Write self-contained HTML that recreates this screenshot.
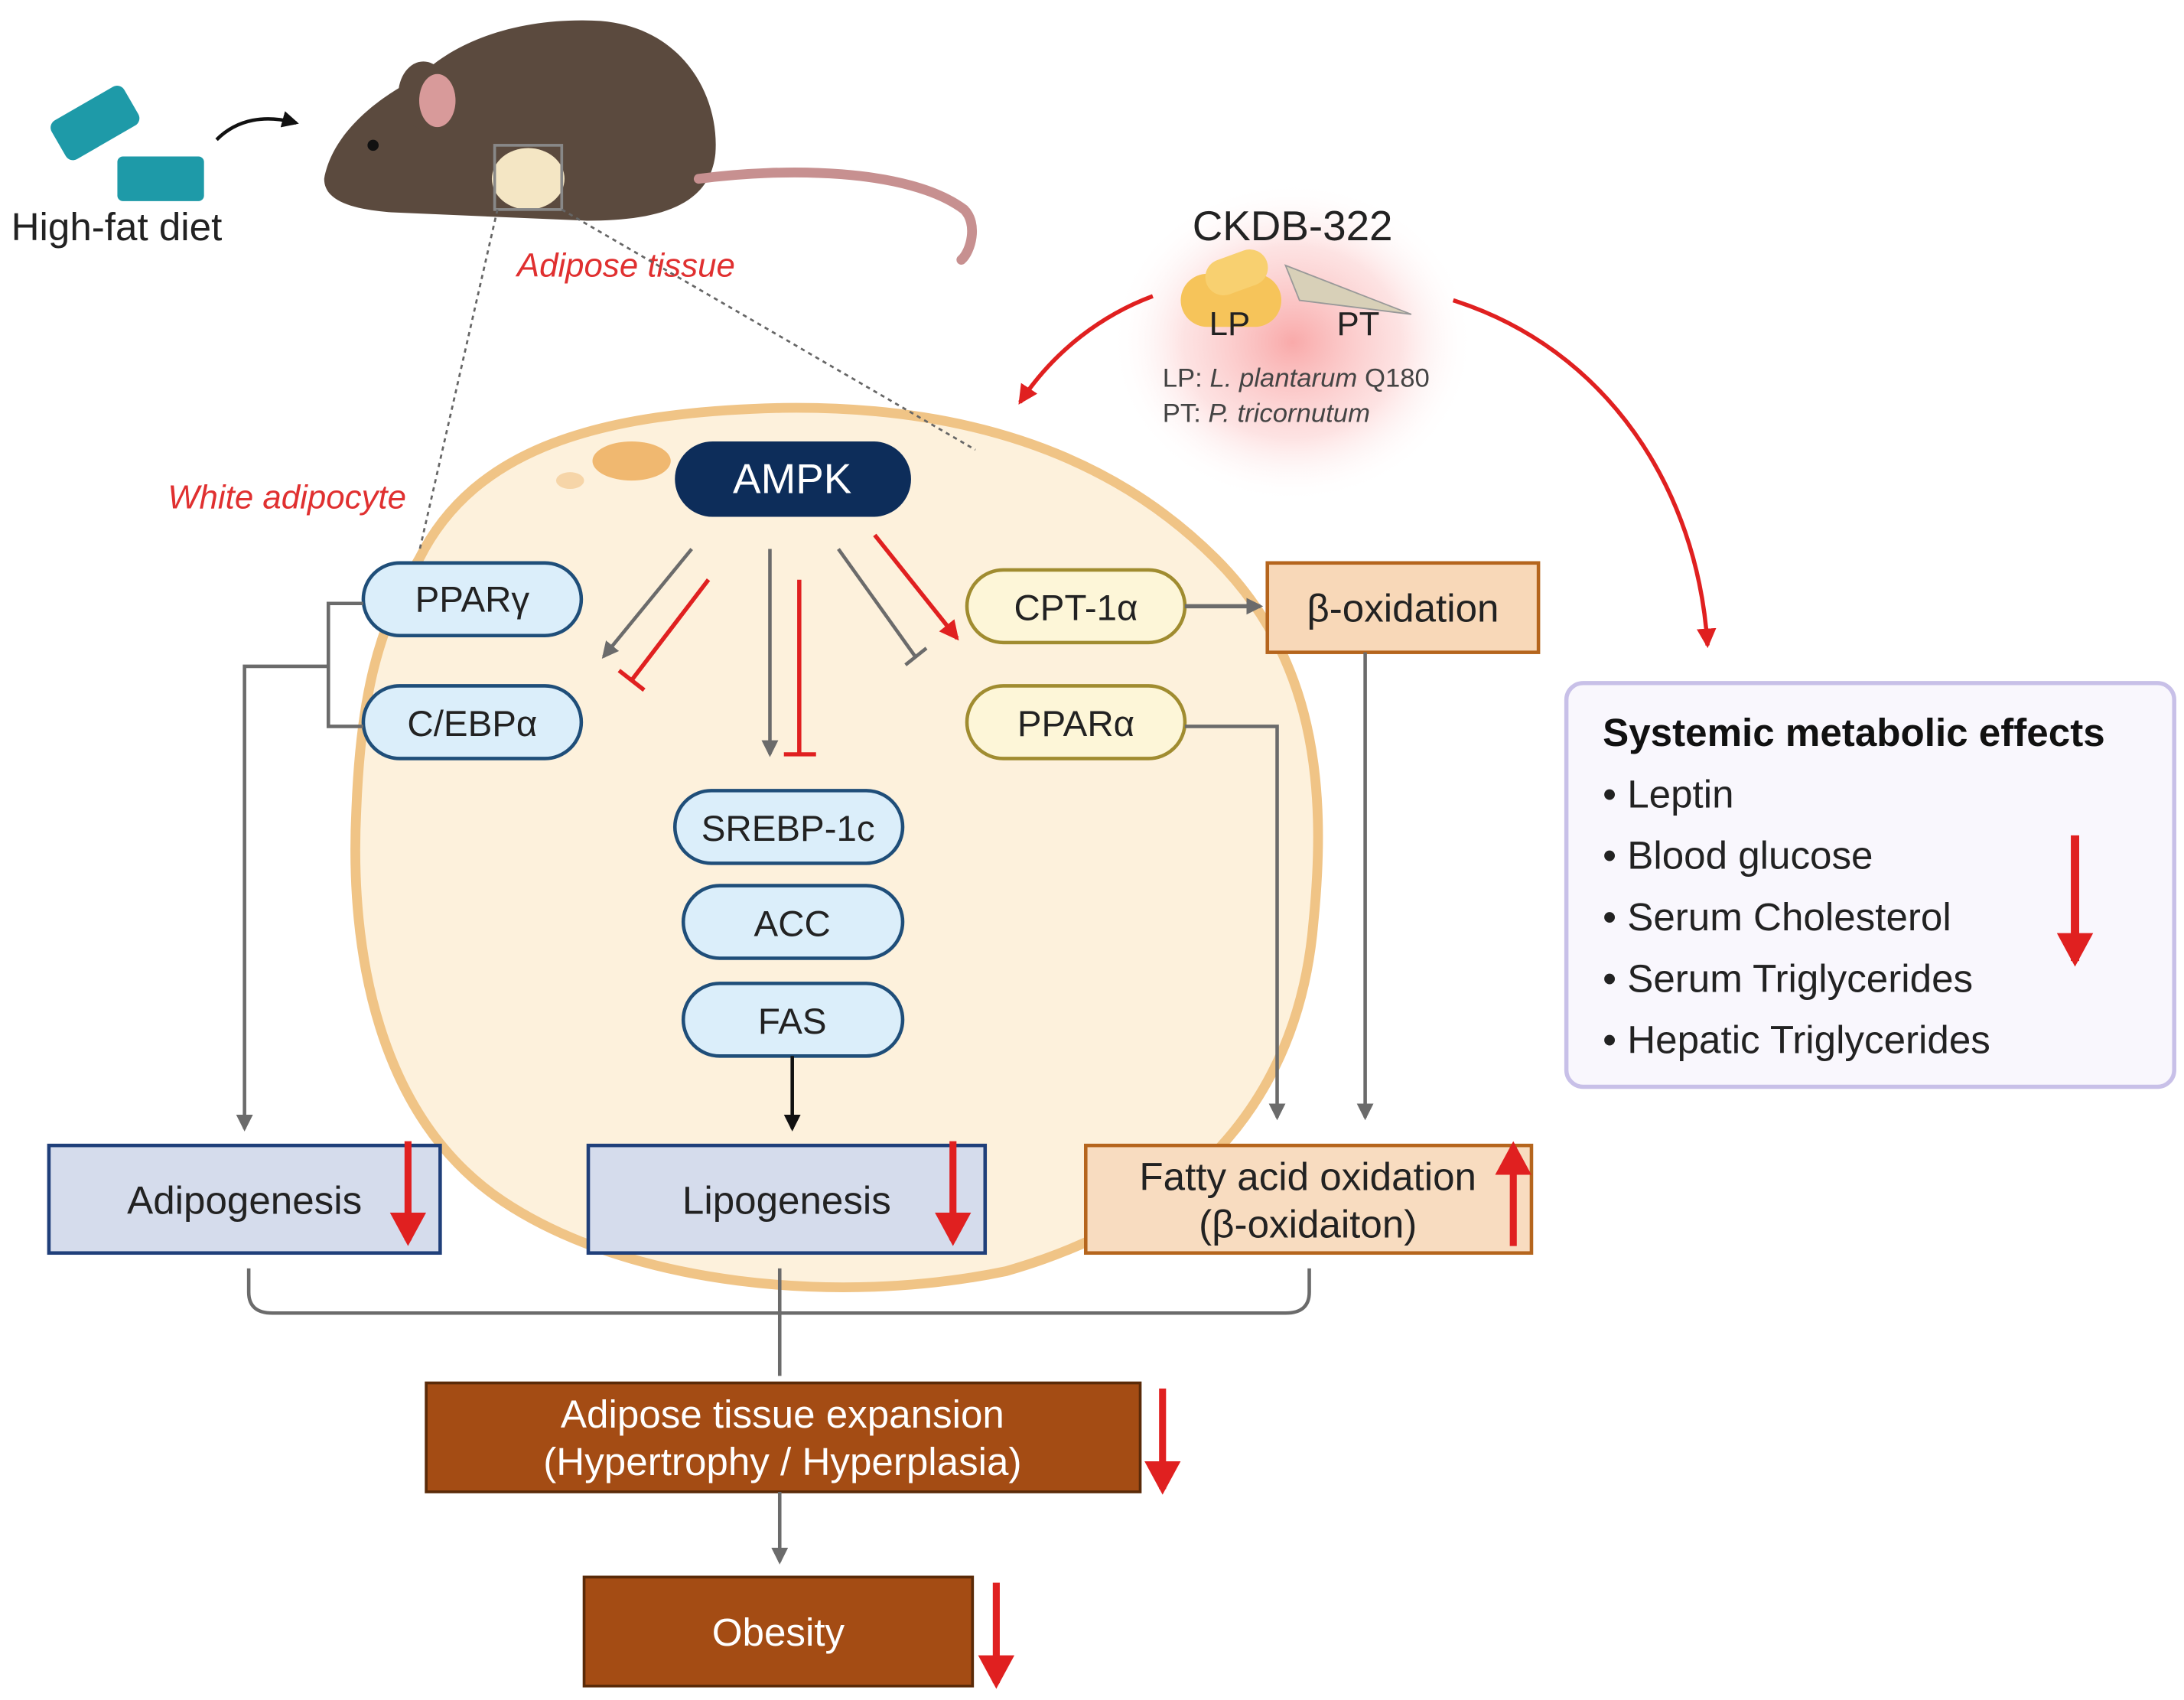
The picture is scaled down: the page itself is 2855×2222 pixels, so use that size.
<!DOCTYPE html>
<html><head><meta charset="utf-8"><style>
html,body{margin:0;padding:0;background:#fff;}
svg{display:block;}
text{font-family:"Liberation Sans",sans-serif;}
</style></head><body>
<svg width="2855" height="2222" viewBox="0 0 1563 1217" preserveAspectRatio="none" xmlns="http://www.w3.org/2000/svg">
<defs>
<marker id="ak" markerWidth="12" markerHeight="12" refX="10" refY="6" orient="auto" markerUnits="userSpaceOnUse"><path d="M0,0 L12,6 L0,12z" fill="#111"/></marker>
<marker id="ar" markerWidth="14" markerHeight="14" refX="12" refY="7" orient="auto" markerUnits="userSpaceOnUse"><path d="M0,0 L14,7 L0,14z" fill="#e02020"/></marker>
<marker id="arb" markerWidth="26" markerHeight="26" refX="20" refY="13" orient="auto" markerUnits="userSpaceOnUse"><path d="M0,0 L24,13 L0,26z" fill="#e02020"/></marker>
<marker id="agr" markerWidth="12" markerHeight="12" refX="10" refY="6" orient="auto" markerUnits="userSpaceOnUse"><path d="M0,0 L12,6 L0,12z" fill="#6b6b6b"/></marker>
<radialGradient id="glow"><stop offset="0" stop-color="#f8a0a0" stop-opacity="0.9"/><stop offset="0.6" stop-color="#fcd0d0" stop-opacity="0.6"/><stop offset="1" stop-color="#fff" stop-opacity="0"/></radialGradient>
</defs>

<path d="M300,400 C340,320 430,295 560,292 C700,290 800,330 870,400 C940,470 950,560 940,660 C930,780 860,870 720,910 C600,935 450,920 360,860 C270,800 250,680 255,580 C258,500 270,450 300,400Z" fill="#fdf1dc" stroke="#f0c486" stroke-width="7"/>
<ellipse cx="452" cy="330" rx="28" ry="14" fill="#f0b870"/>
<ellipse cx="408" cy="344" rx="10" ry="6" fill="#f6d5a8"/>

<ellipse cx="925" cy="245" rx="130" ry="115" fill="url(#glow)"/>

<g>
<path d="M232,128 C238,95 270,70 300,55 C330,25 380,12 430,15 C490,20 515,70 512,110 C508,148 470,158 420,158 L280,152 C255,150 232,145 232,128Z" fill="#5b4a3e"/>
<ellipse cx="303" cy="68" rx="18" ry="24" fill="#5b4a3e"/>
<ellipse cx="313" cy="72" rx="13" ry="19" fill="#d89a9a"/>
<circle cx="267" cy="104" r="4" fill="#111"/>
<path d="M500,128 C560,120 650,120 690,150 C700,160 695,180 688,186" fill="none" stroke="#c79090" stroke-width="7" stroke-linecap="round"/>
<ellipse cx="378" cy="128" rx="26" ry="22" fill="#f4e6c4"/>
<rect x="354" y="104" width="48" height="46" fill="none" stroke="#888" stroke-width="2"/>
<path d="M155,100 C170,85 190,82 212,88" fill="none" stroke="#111" stroke-width="2.5" marker-end="url(#ak)"/>
<rect x="38" y="72" width="60" height="32" rx="6" fill="#1e9aa8" transform="rotate(-30 68 88)"/>
<rect x="84" y="112" width="62" height="32" rx="4" fill="#1e9aa8"/>
</g>
<text x="8" y="172" font-size="28" fill="#222">High-fat diet</text>
<text x="370" y="198" font-size="24" font-style="italic" fill="#e03030">Adipose tissue</text>
<text x="120" y="364" font-size="24" font-style="italic" fill="#e03030">White adipocyte</text>
<line x1="356" y1="150" x2="300" y2="395" stroke="#666" stroke-width="1.5" stroke-dasharray="3,3"/>
<line x1="402" y1="150" x2="698" y2="322" stroke="#666" stroke-width="1.5" stroke-dasharray="3,3"/>

<text x="925" y="172" font-size="30" text-anchor="middle" fill="#222">CKDB-322</text>
<rect x="845" y="196" width="72" height="38" rx="19" fill="#f6c45a"/>
<rect x="862" y="182" width="46" height="26" rx="13" fill="#f8d070" transform="rotate(-20 885 195)"/>
<path d="M920,190 L1010,225 L930,215Z" fill="#d8d0b8" stroke="#999"/>
<text x="880" y="240" font-size="24" text-anchor="middle" fill="#222">LP</text>
<text x="972" y="240" font-size="24" text-anchor="middle" fill="#222">PT</text>
<text x="832" y="277" font-size="19" fill="#444">LP: <tspan font-style="italic">L. plantarum</tspan> Q180</text>
<text x="832" y="302" font-size="19" fill="#444">PT: <tspan font-style="italic">P. tricornutum</tspan></text>
<path d="M825,212 C790,225 755,250 730,288" fill="none" stroke="#e02020" stroke-width="3" marker-end="url(#ar)"/>
<path d="M1040,215 C1150,250 1215,350 1222,462" fill="none" stroke="#e02020" stroke-width="3" marker-end="url(#ar)"/>

<rect x="483" y="316" width="169" height="54" rx="27" fill="#0d2d5a"/>
<text x="567" y="353" font-size="30" text-anchor="middle" fill="#fff">AMPK</text>

<g font-size="26" text-anchor="middle" fill="#222">
<rect x="260" y="403" width="156" height="52" rx="26" fill="#dbeefa" stroke="#1f4e79" stroke-width="2.5"/><text x="338" y="438">PPARγ</text>
<rect x="260" y="491" width="156" height="52" rx="26" fill="#dbeefa" stroke="#1f4e79" stroke-width="2.5"/><text x="338" y="527">C/EBPα</text>
<rect x="483" y="566" width="163" height="52" rx="26" fill="#dbeefa" stroke="#1f4e79" stroke-width="2.5"/><text x="564" y="602">SREBP-1c</text>
<rect x="489" y="634" width="157" height="52" rx="26" fill="#dbeefa" stroke="#1f4e79" stroke-width="2.5"/><text x="567" y="670">ACC</text>
<rect x="489" y="704" width="157" height="52" rx="26" fill="#dbeefa" stroke="#1f4e79" stroke-width="2.5"/><text x="567" y="740">FAS</text>
<rect x="692" y="408" width="156" height="52" rx="26" fill="#fdf6d8" stroke="#a08c30" stroke-width="2.5"/><text x="770" y="444">CPT-1α</text>
<rect x="692" y="491" width="156" height="52" rx="26" fill="#fdf6d8" stroke="#a08c30" stroke-width="2.5"/><text x="770" y="527">PPARα</text>
<rect x="907" y="403" width="194" height="64" fill="#f8d8b8" stroke="#b5651d" stroke-width="2.5"/><text x="1004" y="445" font-size="28">β-oxidation</text>
</g>

<line x1="495" y1="393" x2="432" y2="470" stroke="#6b6b6b" stroke-width="2.5" marker-end="url(#agr)"/>
<line x1="507" y1="415" x2="452" y2="487" stroke="#e02020" stroke-width="3"/>
<line x1="443" y1="480" x2="461" y2="494" stroke="#e02020" stroke-width="3"/>
<line x1="551" y1="393" x2="551" y2="540" stroke="#6b6b6b" stroke-width="2.5" marker-end="url(#agr)"/>
<line x1="572" y1="415" x2="572" y2="540" stroke="#e02020" stroke-width="3"/>
<line x1="561" y1="540" x2="584" y2="540" stroke="#e02020" stroke-width="3"/>
<line x1="600" y1="393" x2="655" y2="470" stroke="#6b6b6b" stroke-width="2.5"/>
<line x1="648" y1="476" x2="663" y2="464" stroke="#6b6b6b" stroke-width="2.5"/>
<line x1="626" y1="383" x2="685" y2="457" stroke="#e02020" stroke-width="3" marker-end="url(#ar)"/>
<line x1="848" y1="434" x2="902" y2="434" stroke="#6b6b6b" stroke-width="3" marker-end="url(#agr)"/>

<path d="M260,432 H235 V520 H260" fill="none" stroke="#6b6b6b" stroke-width="2.5"/>
<path d="M235,477 H175 V808" fill="none" stroke="#6b6b6b" stroke-width="2.5" marker-end="url(#agr)"/>
<line x1="567" y1="756" x2="567" y2="808" stroke="#111" stroke-width="2.5" marker-end="url(#ak)"/>
<path d="M848,520 H914 V800" fill="none" stroke="#6b6b6b" stroke-width="2.5" marker-end="url(#agr)"/>
<line x1="977" y1="467" x2="977" y2="800" stroke="#6b6b6b" stroke-width="2.5" marker-end="url(#agr)"/>

<rect x="35" y="820" width="280" height="77" fill="#d5dcec" stroke="#1f3f7a" stroke-width="2.5"/>
<text x="175" y="869" font-size="28" text-anchor="middle" fill="#222">Adipogenesis</text>
<rect x="421" y="820" width="284" height="77" fill="#d5dcec" stroke="#1f3f7a" stroke-width="2.5"/>
<text x="563" y="869" font-size="28" text-anchor="middle" fill="#222">Lipogenesis</text>
<rect x="777" y="820" width="319" height="77" fill="#f8dcc0" stroke="#b5651d" stroke-width="2.5"/>
<text x="936" y="852" font-size="28" text-anchor="middle" fill="#222">Fatty acid oxidation</text>
<text x="936" y="886" font-size="28" text-anchor="middle" fill="#222">(β-oxidaiton)</text>
<line x1="292" y1="817" x2="292" y2="888" stroke="#e02020" stroke-width="5" marker-end="url(#arb)"/>
<line x1="682" y1="817" x2="682" y2="888" stroke="#e02020" stroke-width="5" marker-end="url(#arb)"/>
<line x1="1083" y1="892" x2="1083" y2="821" stroke="#e02020" stroke-width="5" marker-end="url(#arb)"/>

<path d="M178,908 V925 Q178,940 195,940 H920 Q937,940 937,925 V908" fill="none" stroke="#6b6b6b" stroke-width="2.5"/>
<line x1="558" y1="908" x2="558" y2="985" stroke="#6b6b6b" stroke-width="2.5"/>

<rect x="305" y="990" width="511" height="78" fill="#a44c14" stroke="#5a2a08" stroke-width="2"/>
<text x="560" y="1022" font-size="28" text-anchor="middle" fill="#fff">Adipose tissue expansion</text>
<text x="560" y="1056" font-size="28" text-anchor="middle" fill="#fff">(Hypertrophy / Hyperplasia)</text>
<line x1="832" y1="994" x2="832" y2="1066" stroke="#e02020" stroke-width="5" marker-end="url(#arb)"/>
<line x1="558" y1="1068" x2="558" y2="1118" stroke="#6b6b6b" stroke-width="2.5" marker-end="url(#agr)"/>
<rect x="418" y="1129" width="278" height="78" fill="#a44c14" stroke="#5a2a08" stroke-width="2"/>
<text x="557" y="1178" font-size="28" text-anchor="middle" fill="#fff">Obesity</text>
<line x1="713" y1="1133" x2="713" y2="1205" stroke="#e02020" stroke-width="5" marker-end="url(#arb)"/>

<rect x="1121" y="489" width="435" height="289" rx="12" fill="#f9f7fd" stroke="#c8c0e8" stroke-width="3"/>
<text x="1147" y="534" font-size="28" font-weight="bold" fill="#111">Systemic metabolic effects</text>
<g font-size="28" fill="#222">
<text x="1147" y="578">• Leptin</text>
<text x="1147" y="622">• Blood glucose</text>
<text x="1147" y="666">• Serum Cholesterol</text>
<text x="1147" y="710">• Serum Triglycerides</text>
<text x="1147" y="754">• Hepatic Triglycerides</text>
</g>
<line x1="1485" y1="598" x2="1485" y2="688" stroke="#e02020" stroke-width="6" marker-end="url(#arb)"/>
</svg>
</body></html>
